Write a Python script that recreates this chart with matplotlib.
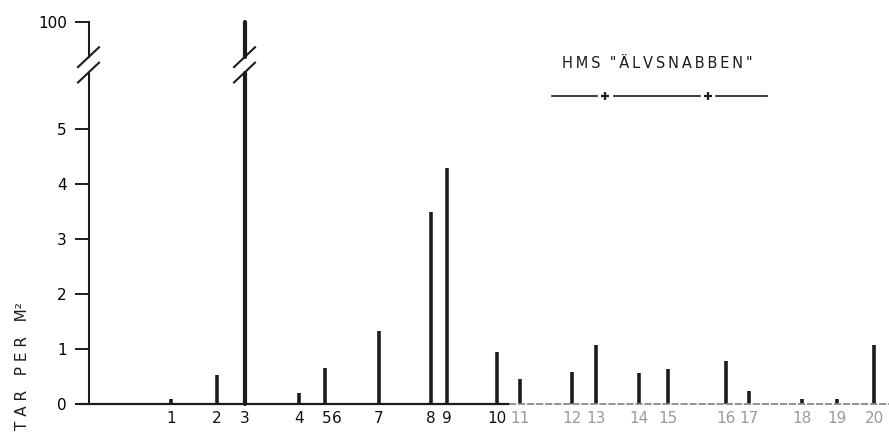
import matplotlib.pyplot as plt

stations = ["1", "2", "3", "4", "5", "6", "7", "8", "9", "10",
            "11", "12", "13", "14", "15", "16", "17", "18", "19", "20"]
distance = [82, 128, 156, 210, 236, 248, 290, 342, 358, 408,
            431, 483, 507, 550, 579, 637, 660, 713, 748, 785]
tar = [0.1, 0.53, 100, 0.2, 0.65, 0.0, 1.33, 3.5, 4.3, 0.95,
       0.45, 0.58, 1.07, 0.56, 0.64, 0.78, 0.24, 0.1, 0.1, 1.07]
ytick_values = [0, 1, 2, 3, 4, 5, 100]

# broken y axis: everything above the break is drawn at TOP
TOP = 6.95
GAP_LO, GAP_HI = 6.03, 6.31


def to_axis(v):
    return v if v <= 5.5 else TOP


fig = plt.figure(figsize=(8.89, 4.32), dpi=100)
ax = fig.add_axes([89 / 889, 28 / 432, 800 / 889, 382 / 432])
ax.set_xlim(0, 800)
ax.set_ylim(0, TOP)

ink = "#1c1c1c"
faded = "#8a8a8a"

# bars
for x, v in zip(distance, tar):
    if v <= 0:
        continue
    top = to_axis(v)
    if top > GAP_HI:
        ax.plot([x, x], [0, GAP_LO], color=ink, lw=3.0, solid_capstyle="round", clip_on=False)
        ax.plot([x, x], [GAP_HI, top], color=ink, lw=3.0, solid_capstyle="round", clip_on=False)
    else:
        ax.plot([x, x], [0, top], color=ink, lw=2.6, solid_capstyle="butt", clip_on=False)

# left axis with break
for s in ["left", "top", "right", "bottom"]:
    ax.spines[s].set_visible(False)
ax.plot([0, 0], [0, GAP_LO], color=ink, lw=1.5, clip_on=False)
ax.plot([0, 0], [GAP_HI, TOP], color=ink, lw=1.5, clip_on=False)

# break slashes on axis and on the tall bar
for x in [0, distance[tar.index(max(tar))]]:
    for yc in [GAP_LO, GAP_HI]:
        ax.plot([x - 11, x + 10], [yc - 0.18, yc + 0.18], color=ink, lw=1.5, clip_on=False)

# baseline, darker on the left, faded to the right as in the print
ax.plot([-10, 420], [0, 0], color=ink, lw=1.6, clip_on=False)
ax.plot([420, 800], [0, 0], color=faded, lw=1.3, ls=(0, (4, 1)), clip_on=False)

# y ticks
ax.set_yticks([to_axis(v) for v in ytick_values])
ax.set_yticklabels([str(v) for v in ytick_values], fontsize=11)
ax.tick_params(axis="y", length=10, width=1.4, color=ink, pad=6)

# x station labels
ax.set_xticks([])
label_x = list(distance)
label_x[4] = 238
for i, (x, s) in enumerate(zip(label_x, stations)):
    col = "#111111" if i < 10 else "#9a9a9a"
    ax.text(x, -0.12, s, ha="center", va="top", fontsize=11, color=col, clip_on=False)

# legend / vessel name
fig.text(657 / 889, 1 - 64 / 432, "H\u2009M\u2009S  \"\u2009Ä\u2009L\u2009V\u2009S\u2009N\u2009A\u2009B\u2009B\u2009E\u2009N\u2009\"",
         ha="center", va="center", fontsize=10.5, color=ink)
ly = 1 - 96 / 432
fig.lines.append(plt.Line2D([552 / 889, 597 / 889], [ly, ly], color=ink, lw=1.2, transform=fig.transFigure))
fig.lines.append(plt.Line2D([614 / 889, 700 / 889], [ly, ly], color=ink, lw=1.2, transform=fig.transFigure))
fig.lines.append(plt.Line2D([716 / 889, 767 / 889], [ly, ly], color=ink, lw=1.2, transform=fig.transFigure))
for px in [605, 708]:
    fig.lines.append(plt.Line2D([px / 889], [ly], marker="+", ms=6, mew=1.6, color=ink,
                                transform=fig.transFigure))

# y label
fig.text(23 / 889, 0.005, "T A R   P E R   M²", rotation=90, ha="center", va="bottom",
         fontsize=11, color=ink)

fig.savefig("out.png", dpi=100)
